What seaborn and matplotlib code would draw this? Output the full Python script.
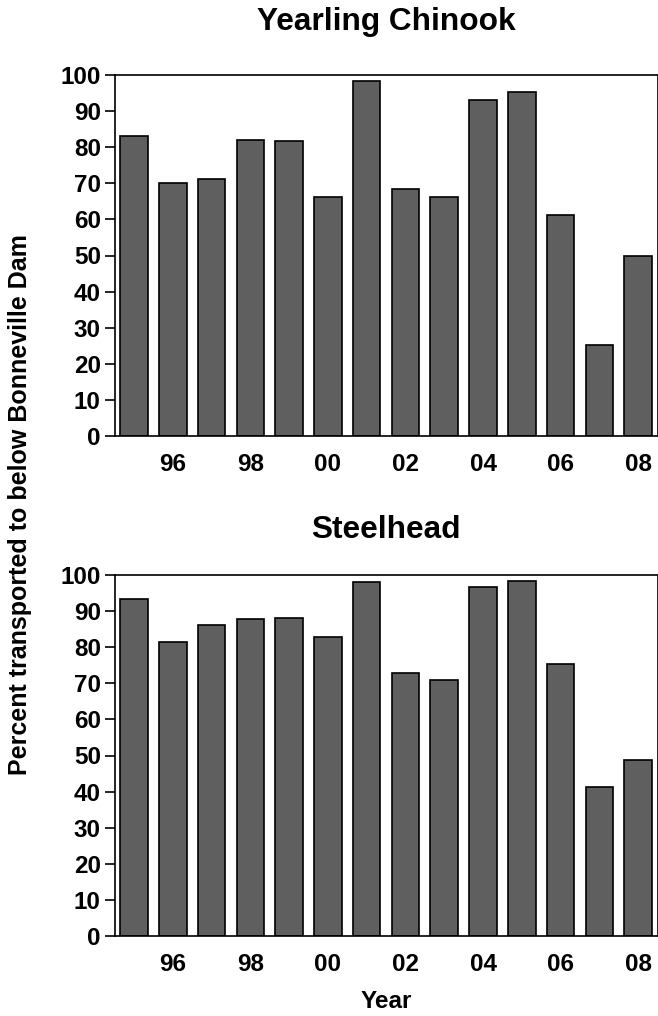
import matplotlib
matplotlib.use("Agg")
import matplotlib.pyplot as plt
import seaborn as sns
import pandas as pd

years = [1995, 1996, 1997, 1998, 1999, 2000, 2001, 2002, 2003, 2004, 2005, 2006, 2007, 2008]
chinook = [83.0, 70.0, 71.3, 82.0, 81.7, 66.3, 98.2, 68.3, 66.1, 93.2, 95.2, 61.1, 25.1, 49.8]
steelhead = [93.3, 81.5, 86.1, 87.9, 88.2, 82.8, 98.1, 72.9, 70.8, 96.7, 98.4, 75.3, 41.2, 48.8]
titles = ["Yearling Chinook", "Steelhead"]
yticks = list(range(0, 101, 10))
xlabel_years = {1996: "96", 1998: "98", 2000: "00", 2002: "02", 2004: "04", 2006: "06", 2008: "08"}

sns.set_theme(style="white")
plt.rcParams["font.family"] = ["Liberation Sans", "DejaVu Sans"]
plt.rcParams["font.weight"] = "bold"
plt.rcParams["text.color"] = "black"
plt.rcParams["xtick.color"] = "black"
plt.rcParams["ytick.color"] = "black"
plt.rcParams["axes.labelcolor"] = "black"

W, H = 658, 1016
fig = plt.figure(figsize=(W / 100, H / 100), dpi=100)

def px_axes(l, t, r, b):
    return fig.add_axes([l / W, 1 - b / H, (r - l) / W, (b - t) / H])

ax1 = px_axes(114.7, 75, 657.5, 436)
ax2 = px_axes(114.7, 575, 657.5, 936)

for ax, vals, title, ty in [(ax1, chinook, titles[0], 22), (ax2, steelhead, titles[1], 530)]:
    df = pd.DataFrame({"year": [str(y) for y in years], "pct": vals})
    sns.barplot(data=df, x="year", y="pct", ax=ax, color="#5f5f5f",
                saturation=1, width=0.71, edgecolor="black", linewidth=1.2)
    ax.set_xlim(-0.5, len(years) - 0.5)
    ax.set_ylim(0, 100)
    ax.set_yticks(yticks)
    ax.set_yticklabels([str(v) for v in yticks], fontsize=17.5, fontweight="bold", color="black")
    xt = [i for i, y in enumerate(years) if y in xlabel_years]
    ax.set_xticks(xt)
    ax.set_xticklabels([xlabel_years[years[i]] for i in xt], fontsize=17.5, fontweight="bold", color="black")
    ax.tick_params(axis="x", length=0, pad=12)
    ax.tick_params(axis="y", left=True, length=7, width=1.2, pad=3, color="black")
    ax.set_xlabel("")
    ax.set_ylabel("")
    for s in ax.spines.values():
        s.set_visible(True)
        s.set_color("black")
        s.set_linewidth(1.2)
    fig.text(386 / W, 1 - ty / H, title, ha="center", va="center",
             fontsize=22.8, fontweight="bold", color="black")

fig.text(20 / W, 1 - 505 / H, "Percent transported to below Bonneville Dam",
         rotation=90, ha="center", va="center", fontsize=18, fontweight="bold", color="black")
fig.text(386 / W, 1 - 1001 / H, "Year", ha="center", va="center",
         fontsize=17.5, fontweight="bold", color="black")

fig.savefig("out.png", dpi=100, facecolor="white")
